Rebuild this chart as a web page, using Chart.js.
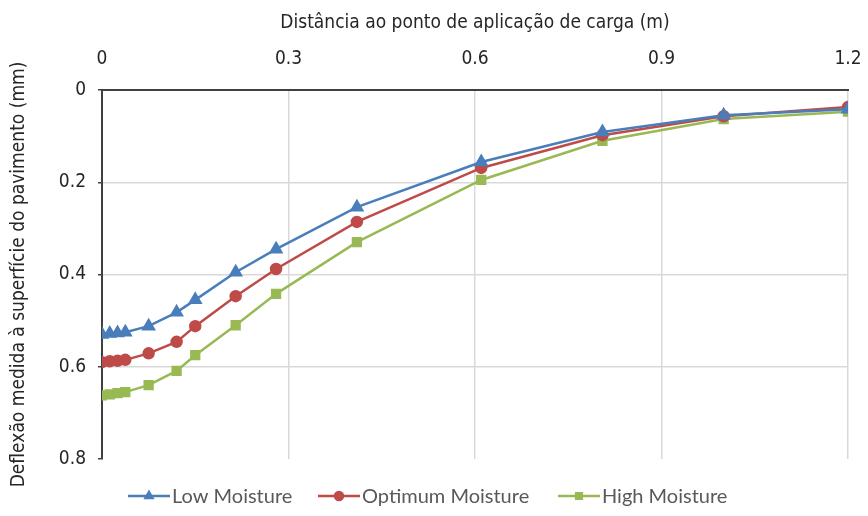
<!DOCTYPE html>
<html>
<head>
<meta charset="utf-8">
<script src="https://cdn.jsdelivr.net/npm/chart.js@4"></script>
<style>
  html, body { margin: 0; padding: 0; background: #fff; }
  #wrap { width: 868px; height: 516px; }
</style>
</head>
<body>
<div id="wrap"><canvas id="chart" width="868" height="516"></canvas></div>
<script>
// distance from load point (m)
const distances = [0, 0.0125, 0.025, 0.0375, 0.075, 0.12, 0.15, 0.215, 0.28, 0.41, 0.61, 0.805, 1.0, 1.2];
// measured deflection (mm)
const lowMoisture = [0.530, 0.528, 0.527, 0.525, 0.512, 0.482, 0.455, 0.395, 0.345, 0.254, 0.156, 0.091, 0.055, 0.042];
const optimumMoisture = [0.590, 0.588, 0.587, 0.585, 0.571, 0.546, 0.512, 0.447, 0.388, 0.286, 0.169, 0.098, 0.057, 0.037];
const highMoisture = [0.662, 0.660, 0.657, 0.655, 0.640, 0.609, 0.575, 0.510, 0.442, 0.330, 0.195, 0.110, 0.063, 0.047];
const xTicks = [0, 0.3, 0.6, 0.9, 1.2];
const yTicks = [0, 0.2, 0.4, 0.6, 0.8];

const toPoints = vals => vals.map((v, i) => ({ x: distances[i], y: v }));

const tickFont = { family: "'DejaVu Sans Condensed', 'Liberation Sans', Arial, sans-serif", size: 19 };
const titleFont = { family: "'DejaVu Sans Condensed', 'Liberation Sans', Arial, sans-serif", size: 19 };
const textColor = '#262626';

// legend drawn as line + marker, like the spreadsheet version
const lineLegend = {
    id: 'lineLegend',
    afterDraw(chart) {
        const ctx = chart.ctx;
        const y = 496;
        const starts = [128, 318, 558];
        ctx.save();
        ctx.font = "20px Lato, 'Liberation Sans', sans-serif";
        ctx.textBaseline = 'middle';
        chart.data.datasets.forEach((ds, i) => {
            const x0 = starts[i];
            ctx.strokeStyle = ds.borderColor;
            ctx.lineWidth = 2.5;
            ctx.beginPath();
            ctx.moveTo(x0, y);
            ctx.lineTo(x0 + 42, y);
            ctx.stroke();
            ctx.fillStyle = ds.backgroundColor;
            Chart.helpers.drawPoint(ctx, {
                pointStyle: ds.pointStyle,
                radius: 4,
                borderWidth: 1
            }, x0 + 21, y);
            ctx.fillStyle = '#595959';
            ctx.fillText(ds.label, x0 + 44, y + 1);
        });
        ctx.restore();
    }
};

new Chart(document.getElementById('chart'), {
    type: 'line',
    data: {
        datasets: [{
            label: 'Low Moisture',
            data: toPoints(lowMoisture),
            borderColor: '#4a7ebb',
            backgroundColor: '#4a7ebb',
            pointStyle: 'triangle',
            pointRadius: 6,
            borderWidth: 2.5
        }, {
            label: 'Optimum Moisture',
            data: toPoints(optimumMoisture),
            borderColor: '#be4b48',
            backgroundColor: '#be4b48',
            pointStyle: 'circle',
            pointRadius: 5,
            borderWidth: 2.5
        }, {
            label: 'High Moisture',
            data: toPoints(highMoisture),
            borderColor: '#98b954',
            backgroundColor: '#98b954',
            pointStyle: 'rect',
            pointRadius: 5.5,
            borderWidth: 2.5
        }]
    },
    options: {
        responsive: false,
        animation: false,
        layout: { padding: { left: 0, right: 20, top: 0, bottom: 57 } },
        plugins: {
            legend: { display: false },
            tooltip: { enabled: false }
        },
        scales: {
            x: {
                type: 'linear',
                position: 'top',
                min: 0,
                max: 1.2,
                afterBuildTicks: s => { s.ticks = xTicks.map(v => ({ value: v })); },
                afterFit: s => { s.height = 90; s.paddingLeft = 0; s.paddingRight = 0; },
                title: {
                    display: true,
                    text: 'Distância ao ponto de aplicação de carga (m)',
                    color: textColor,
                    font: titleFont,
                    padding: { top: 12, bottom: 4 }
                },
                ticks: { color: textColor, font: tickFont, padding: 20, callback: v => String(v) },
                grid: {
                    color: c => c.tick.value === 0 ? '#404040' : '#d9d9d9',
                    lineWidth: c => c.tick.value === 0 ? 2 : 1.5,
                    drawTicks: false
                },
                border: { color: '#404040', width: 2 }
            },
            y: {
                type: 'linear',
                reverse: true,
                min: 0,
                max: 0.8,
                afterBuildTicks: s => { s.ticks = yTicks.map(v => ({ value: v })); },
                afterFit: s => { s.width = 102; },
                title: {
                    display: true,
                    text: 'Deflexão medida à superfície do pavimento (mm)',
                    color: textColor,
                    font: titleFont,
                    padding: { top: 8, bottom: 4 }
                },
                ticks: { color: textColor, font: tickFont, padding: 12, callback: v => String(v) },
                grid: {
                    color: c => (c.tick.value === 0 || c.tick.value === 0.8) ? 'rgba(0,0,0,0)' : '#d9d9d9',
                    lineWidth: 1.5,
                    tickColor: '#404040',
                    tickLength: 4
                },
                border: { color: '#404040', width: 2 }
            }
        }
    },
    plugins: [lineLegend]
});
</script>
</body>
</html>
